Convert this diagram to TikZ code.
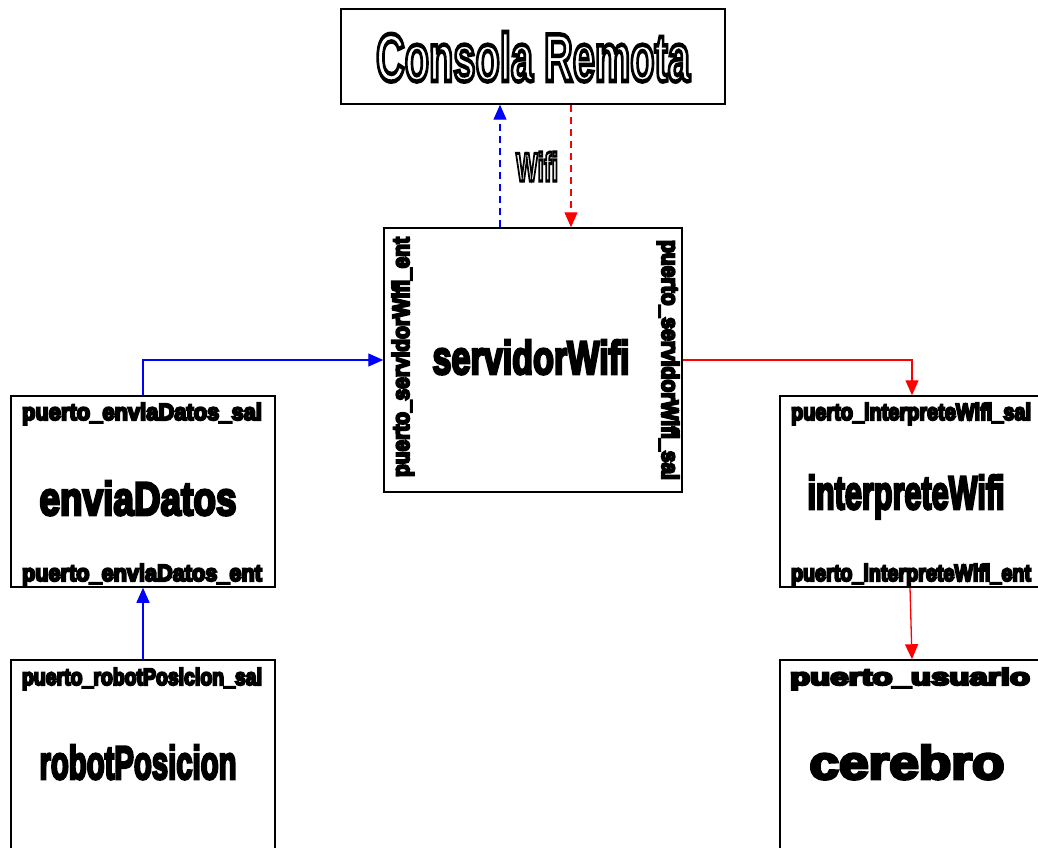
\documentclass[tikz,border=0pt]{standalone}
\usepackage{fontspec}
\usepackage{graphicx}
\usetikzlibrary{arrows.meta}

\newfontfamily\heavy[FakeBold=6]{Liberation Sans Bold}
\newfontfamily\portfont[FakeBold=9]{Liberation Sans Bold}
\newfontfamily\sansbold{Liberation Sans Bold}

%labels squeezed to a fixed width
\newcommand{\mainlbl}[2][186pt]{\resizebox{#1}{34pt}{\heavy\fontsize{40}{44}\selectfont #2}}
\newcommand{\portlbl}[1]{\resizebox{240pt}{17pt}{\portfont\fontsize{20}{22}\selectfont #1}}
%hollow letters: stroke only, no fill
\newcommand{\outlbl}[4]{\resizebox{#1}{#2}{\sansbold\fontsize{60}{66}\selectfont
  \special{pdf:literal direct 1 Tr #3 w}#4\special{pdf:literal direct 0 Tr}}}

\tikzset{
  box/.style={draw=black, line width=1.5pt, fill=white, inner sep=0pt},
  lbl/.style={inner sep=0pt, anchor=base},
  link/.style={line width=1.3pt, -{Triangle[length=15pt,width=13pt]}},
  radio/.style={link, dash pattern=on 7pt off 5pt},
}

\begin{document}
\begin{tikzpicture}[x=1pt, y=-1pt]
\useasboundingbox (0,0) rectangle (1038,848);
\clip (0,0) rectangle (1038,848);

%the boxes
\node[box, minimum width=384pt, minimum height=95pt] (consola) at (533,56.5) {};
\node[box, minimum width=298pt, minimum height=264pt] (servidor) at (533,360) {};
\node[box, minimum width=264pt, minimum height=191pt] (envia) at (143,491.5) {};
\node[box, minimum width=264pt, minimum height=191pt] (interprete) at (912,491.5) {};
\node[box, minimum width=264pt, minimum height=191pt] (robot) at (143,755.5) {};
\node[box, minimum width=264pt, minimum height=191pt] (cerebro) at (912,755.5) {};

%remote console
\node[lbl] (consolaTxt) at (533,81) {\outlbl{314pt}{49pt}{4}{Consola Remota}};
\node[lbl] (wifiTxt) at (537,181) {\outlbl{42pt}{29pt}{4.5}{Wifi}};

%servidorWifi
\node[lbl] (servidorTxt) at (531,374) {\mainlbl[197pt]{servidorWifi}};
\node[lbl, rotate=90] (servidorEnt) at (409,357) {\portlbl{puerto\_servidorWifi\_ent}};
\node[lbl, rotate=-90] (servidorSal) at (662,360) {\portlbl{puerto\_servidorWifi\_sal}};

%enviaDatos
\node[lbl] (enviaSal) at (142,420) {\portlbl{puerto\_enviaDatos\_sal}};
\node[lbl] (enviaTxt) at (138,515) {\mainlbl[197pt]{enviaDatos}};
\node[lbl] (enviaEnt) at (142,581) {\portlbl{puerto\_enviaDatos\_ent}};

%interpreteWifi
\node[lbl] (interpreteSal) at (911,420) {\portlbl{puerto\_interpreteWifi\_sal}};
\node[lbl] (interpreteTxt) at (906,509) {\mainlbl[197pt]{interpreteWifi}};
\node[lbl] (interpreteEnt) at (911,581) {\portlbl{puerto\_interpreteWifi\_ent}};

%robotPosicion and cerebro
\node[lbl] (robotSal) at (142,685) {\portlbl{puerto\_robotPosicion\_sal}};
\node[lbl] (robotTxt) at (138,779) {\mainlbl[197pt]{robotPosicion}};
\node[lbl] (cerebroPuerto) at (910,685) {\portlbl{puerto\_usuario}};
\node[lbl] (cerebroTxt) at (907,779) {\mainlbl[195pt]{cerebro}};

%the links
\draw[radio, blue] ([xshift=-33pt]servidor.north) -- ([xshift=-33pt]consola.south);
\draw[radio, red] ([xshift=38pt]consola.south) -- ([xshift=38pt]servidor.north);
\draw[link, blue] (envia.north) |- (servidor.west);
\draw[link, red] (servidor.east) -| (interprete.north);
\draw[link, red] ([xshift=-2pt]interprete.south) -- (cerebro.north);
\draw[link, blue] (robot.north) -- (envia.south);
\end{tikzpicture}
\end{document}
